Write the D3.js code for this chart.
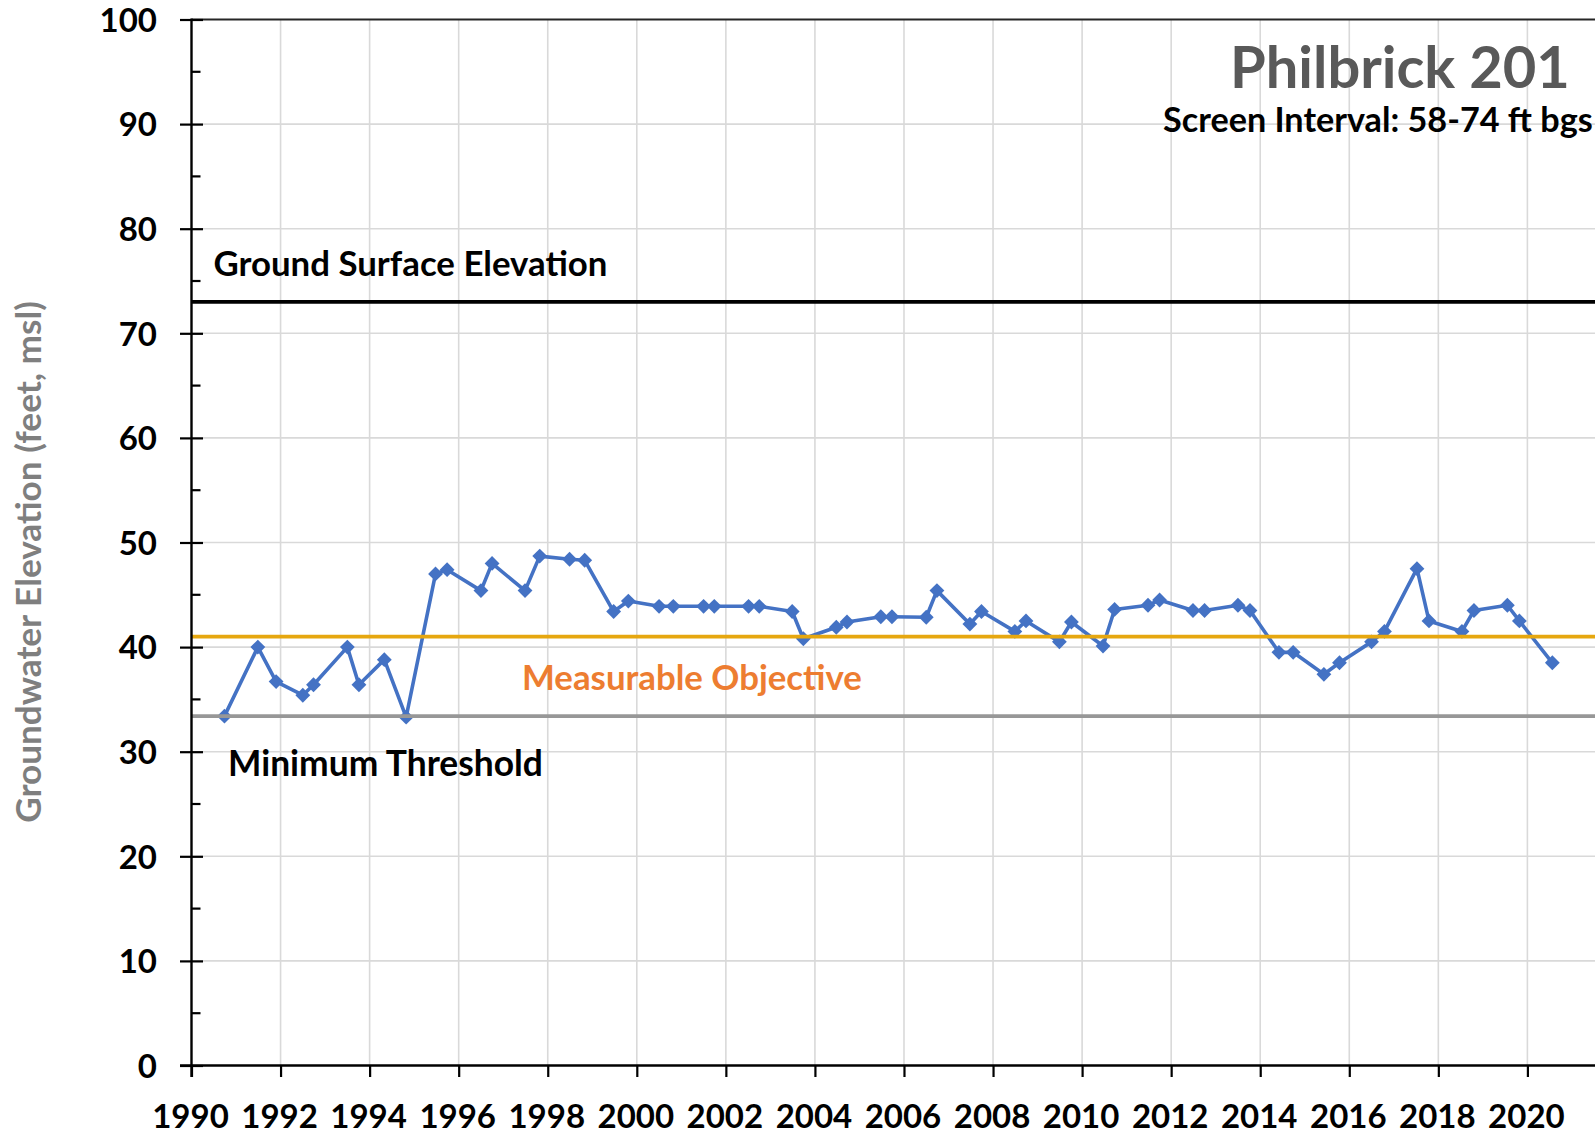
<!DOCTYPE html>
<html>
<head>
<meta charset="utf-8">
<script src="https://cdn.jsdelivr.net/npm/d3@7"></script>
<style>
  html, body { margin: 0; padding: 0; background: #ffffff; overflow: hidden; }
  svg { display: block; }
  text { font-family: "Lato", "Open Sans", sans-serif; font-weight: 700; }
</style>
</head>
<body>
<svg id="chart" width="1595" height="1134"></svg>
<script>
// Sampling dates (decimal years) and groundwater elevations (feet, msl)
const sampleYears = [
  1990.74, 1991.49, 1991.90, 1992.50, 1992.74, 1993.50, 1993.76, 1994.33, 1994.82,
  1995.48, 1995.74, 1996.50, 1996.75, 1997.49, 1997.82, 1998.49, 1998.83, 1999.48, 1999.81,
  2000.50, 2000.82, 2001.50, 2001.74, 2002.51, 2002.75, 2003.49, 2003.74, 2004.48, 2004.72,
  2005.48, 2005.73, 2006.50, 2006.74, 2007.48, 2007.74, 2008.49, 2008.74, 2009.49, 2009.76,
  2010.47, 2010.73, 2011.48, 2011.74, 2012.49, 2012.75, 2013.50, 2013.77, 2014.42, 2014.74,
  2015.43, 2015.78, 2016.50, 2016.79, 2017.52, 2017.79, 2018.53, 2018.80, 2019.55, 2019.82,
  2020.56
];
const elevations = [
  33.4, 40.0, 36.7, 35.4, 36.4, 40.0, 36.4, 38.8, 33.3,
  47.0, 47.4, 45.4, 48.0, 45.4, 48.7, 48.4, 48.3, 43.4, 44.4,
  43.9, 43.9, 43.9, 43.9, 43.9, 43.9, 43.4, 40.8, 41.9, 42.4,
  42.9, 42.9, 42.85, 45.4, 42.2, 43.4, 41.5, 42.5, 40.5, 42.4,
  40.1, 43.6, 44.0, 44.5, 43.5, 43.5, 44.0, 43.5, 39.5, 39.5,
  37.4, 38.5, 40.5, 41.5, 47.5, 42.5, 41.5, 43.5, 44.0, 42.5,
  38.5
];

// Reference levels
const groundSurfaceElevation = 73;
const measurableObjective = 41;
const minimumThreshold = 33.4;

// Axis ticks
const yearTicks = d3.range(1990, 2021, 2);
const elevationTicks = d3.range(0, 101, 10);
const minorElevationTicks = d3.range(5, 100, 10);

// Text
const wellName = "Philbrick 201";
const screenInterval = "Screen Interval: 58-74 ft bgs";
const yAxisTitle = "Groundwater Elevation (feet, msl)";
const groundLabel = "Ground Surface Elevation";
const objectiveLabel = "Measurable Objective";
const thresholdLabel = "Minimum Threshold";

const W = 1595, H = 1134;
const plotLeft = 191.5, plotTop = 19.5, plotBottom = 1065.5;
const pxPerYear = 44.53;
const tickFont = 33;

const svg = d3.select("#chart");

const x = d3.scaleLinear().domain([1990, 2022]).range([plotLeft, plotLeft + 32 * pxPerYear]);
const y = d3.scaleLinear().domain([0, 100]).range([plotBottom, plotTop]);

const points = sampleYears.map((t, i) => ({ t, v: elevations[i] }));

// Scale a text element's font size so its rendered width equals `width`
function fitWidth(sel, width) {
  const fs = parseFloat(sel.attr("font-size"));
  const w = sel.node().getComputedTextLength();
  if (w > 0) sel.attr("font-size", fs * width / w);
  return sel;
}

// Gridlines
const grid = svg.append("g");
grid.selectAll("line.v")
  .data(yearTicks.filter(d => d > 1990).concat([2022]))
  .join("line")
  .attr("x1", d => x(d)).attr("x2", d => x(d))
  .attr("y1", y(100)).attr("y2", y(0))
  .attr("stroke", "#d9d9d9").attr("stroke-width", 1.6);
grid.selectAll("line.h")
  .data(elevationTicks.filter(d => d > 0 && d < 100))
  .join("line")
  .attr("x1", plotLeft).attr("x2", W)
  .attr("y1", d => y(d)).attr("y2", d => y(d))
  .attr("stroke", "#d9d9d9").attr("stroke-width", 1.6);

// Top border of plot
svg.append("line")
  .attr("x1", plotLeft).attr("x2", W)
  .attr("y1", y(100)).attr("y2", y(100))
  .attr("stroke", "#262626").attr("stroke-width", 2);

// Groundwater elevation series
const line = d3.line().x(d => x(d.t)).y(d => y(d.v));
svg.append("path")
  .datum(points)
  .attr("d", line)
  .attr("fill", "none")
  .attr("stroke", "#4472c4")
  .attr("stroke-width", 3.6)
  .attr("stroke-linejoin", "round");

const diamond = d3.symbol(d3.symbolSquare, 110);
svg.append("g").selectAll("path")
  .data(points)
  .join("path")
  .attr("d", diamond)
  .attr("transform", d => `translate(${x(d.t)},${y(d.v)}) rotate(45)`)
  .attr("fill", "#4472c4");

// Reference levels
const refs = [
  { v: groundSurfaceElevation, color: "#000000", w: 3.6 },
  { v: measurableObjective, color: "#e6a70f", w: 3.8 },
  { v: minimumThreshold, color: "#979797", w: 3.8 }
];
svg.append("g").selectAll("line")
  .data(refs)
  .join("line")
  .attr("x1", plotLeft).attr("x2", W)
  .attr("y1", d => y(d.v)).attr("y2", d => y(d.v))
  .attr("stroke", d => d.color)
  .attr("stroke-width", d => d.w);

// Y axis
const yAxis = d3.axisLeft(y).tickValues(elevationTicks).tickSize(0).tickPadding(0).tickFormat(d3.format("d"));
const yg = svg.append("g").attr("transform", `translate(${plotLeft},0)`).call(yAxis);
yg.select(".domain").remove();
yg.selectAll(".tick text")
  .attr("x", 157 - plotLeft)
  .attr("dy", null)
  .attr("y", tickFont * 0.36)
  .attr("text-anchor", "end")
  .attr("font-size", tickFont)
  .attr("font-family", null)
  .attr("fill", "#000");
yg.selectAll(".tick").append("line")
  .attr("x1", -11.5).attr("x2", 11.5)
  .attr("stroke", "#000").attr("stroke-width", 2.2);
svg.append("g").selectAll("line")
  .data(minorElevationTicks)
  .join("line")
  .attr("x1", plotLeft).attr("x2", plotLeft + 9)
  .attr("y1", d => y(d)).attr("y2", d => y(d))
  .attr("stroke", "#000").attr("stroke-width", 2.2);
svg.append("line")
  .attr("x1", plotLeft).attr("x2", plotLeft)
  .attr("y1", y(100) - 1).attr("y2", plotBottom + 11.5)
  .attr("stroke", "#000").attr("stroke-width", 2.4);

// X axis
const xAxis = d3.axisBottom(x).tickValues(yearTicks).tickSize(11.5).tickPadding(0).tickFormat(d3.format("d"));
const xg = svg.append("g").attr("transform", `translate(0,${plotBottom})`).call(xAxis);
xg.select(".domain").remove();
xg.selectAll(".tick line").attr("stroke", "#000").attr("stroke-width", 2.2);
xg.selectAll(".tick text")
  .attr("y", 62)
  .attr("dy", null)
  .attr("x", -1.5)
  .attr("font-size", tickFont)
  .attr("font-family", null)
  .attr("fill", "#000");
svg.append("line")
  .attr("x1", plotLeft - 11.5).attr("x2", W)
  .attr("y1", plotBottom).attr("y2", plotBottom)
  .attr("stroke", "#000").attr("stroke-width", 2.4);

// Y axis title
const yTitle = svg.append("text")
  .attr("transform", "translate(41,562) rotate(-90)")
  .attr("text-anchor", "middle")
  .attr("font-size", 32)
  .attr("fill", "#7f7f7f")
  .text(yAxisTitle);
fitWidth(yTitle, 522);

// Well name and screen interval
fitWidth(svg.append("text")
  .attr("x", 1230).attr("y", 88)
  .attr("font-size", 50)
  .attr("fill", "#595959")
  .text(wellName), 340);
fitWidth(svg.append("text")
  .attr("x", 1163).attr("y", 132)
  .attr("font-size", 30)
  .attr("fill", "#000")
  .text(screenInterval), 430);

// Reference level labels
fitWidth(svg.append("text")
  .attr("x", 213.5).attr("y", 276)
  .attr("font-size", 32)
  .attr("fill", "#000")
  .text(groundLabel), 394);
fitWidth(svg.append("text")
  .attr("x", 522).attr("y", 690)
  .attr("font-size", 32)
  .attr("fill", "#ed7d31")
  .text(objectiveLabel), 340);
fitWidth(svg.append("text")
  .attr("x", 228).attr("y", 776)
  .attr("font-size", 32)
  .attr("fill", "#000")
  .text(thresholdLabel), 315);
</script>
</body>
</html>
